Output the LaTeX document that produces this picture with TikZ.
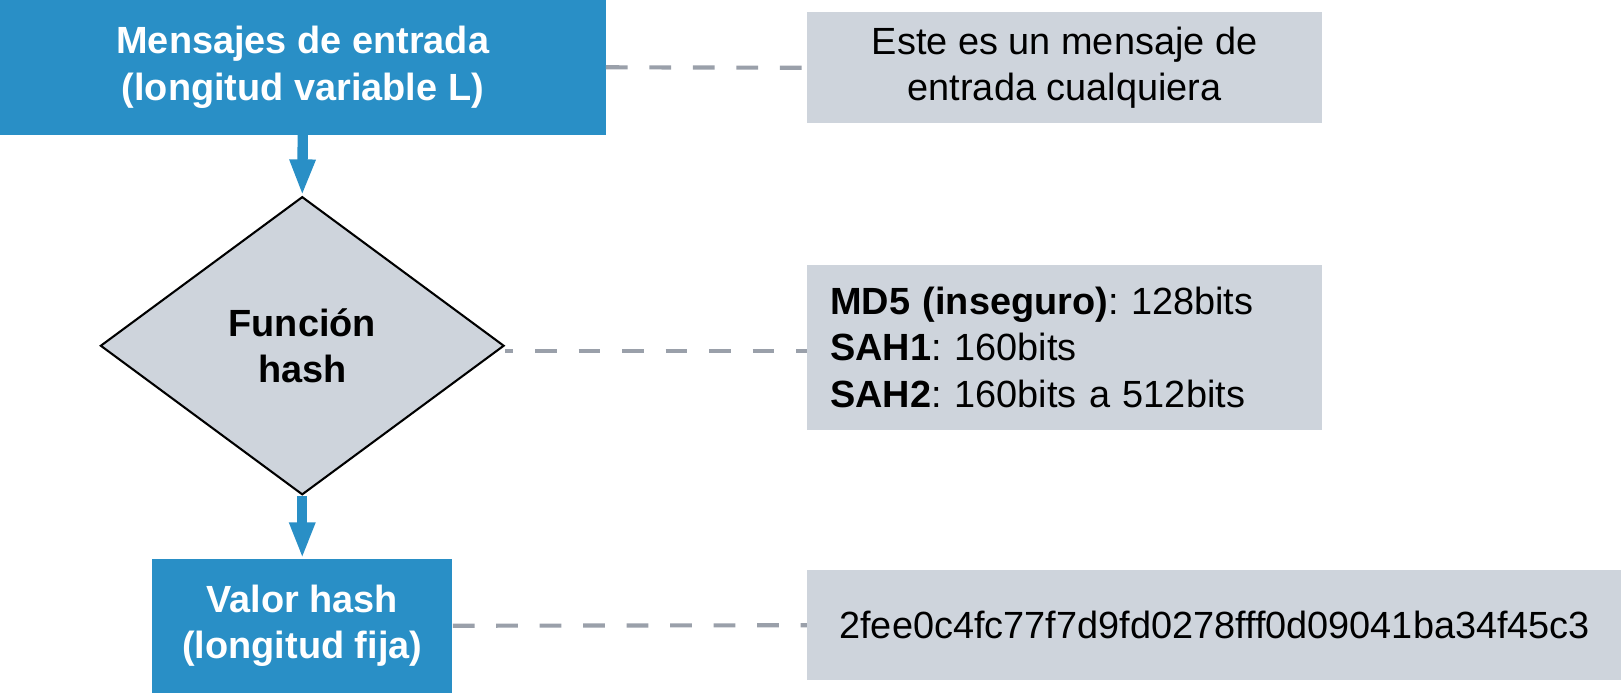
\documentclass[tikz,border=0pt]{standalone}
\usepackage{fontspec}
\setmainfont{Liberation Sans}
\usetikzlibrary{shapes.geometric,arrows.meta}
\definecolor{hashblue}{HTML}{298FC6}
\definecolor{notegray}{HTML}{CED4DC}
\definecolor{dashgray}{HTML}{9AA0AA}
\frenchspacing

\begin{document}
\begin{tikzpicture}[x=0.5pt, y=-0.5pt,
    every node/.style={font=\fontsize{18.3}{22.5}\selectfont, align=center},
    bluebox/.style={fill=hashblue, text=white, font=\fontsize{18.3}{22.5}\selectfont\bfseries},
    notebox/.style={fill=notegray, text=black},
    decision/.style={diamond, draw=black, line width=1pt, fill=notegray, inner sep=0pt,
        minimum width=195pt, minimum height=144pt, font=\fontsize{18.3}{22.5}\selectfont\bfseries},
    flow/.style={draw=hashblue, line width=5pt, -{Triangle[width=11.5pt, length=17.5pt]}},
    link/.style={draw=dashgray, line width=2pt, dash pattern=on 10.5pt off 10.5pt}]
    \useasboundingbox (0,0) rectangle (1566,669.5);

    % 流程
    \node[bluebox, minimum width=292.5pt, minimum height=65pt] (entrada) at (292.5,65) {Mensajes de entrada\\(longitud variable L)};
    \node[decision] (funcion) at (292,334) {Función\\hash};
    \node[bluebox, minimum width=145pt, minimum height=64.5pt] (valor) at (292,604.5) {Valor hash\\(longitud fija)};

    % 说明
    \node[notebox, minimum width=248.5pt, minimum height=53.5pt] (ejemplo) at (1028.5,65.5) {Este es un mensaje de\\entrada cualquiera};
    \node[notebox, align=left, text width=226.5pt, inner xsep=11pt, minimum height=79.5pt] (algoritmos) at (1028.5,335.5)
        {\textbf{MD5 (inseguro)}: 128bits\\\textbf{SAH1}: 160bits\\\textbf{SAH2}: 160bits a 512bits};
    \node[notebox, minimum width=393.5pt, minimum height=53pt] (resultado) at (1173.5,604) {2fee0c4fc77f7d9fd0278fff0d09041ba34f45c3};

    % 箭头
    \draw[flow] (entrada.south) -- (funcion.north);
    \draw[flow] (funcion.south) -- (valor.north);

    % 虚线
    \draw[link] (entrada.east) -- (ejemplo.west);
    \draw[link, dash phase=6.5pt] ([yshift=-2.7pt]funcion.east) -- ([yshift=-2.7pt]funcion.east -| algoritmos.west);
    \draw[link] (valor.east) -- (resultado.west);
\end{tikzpicture}
\end{document}
